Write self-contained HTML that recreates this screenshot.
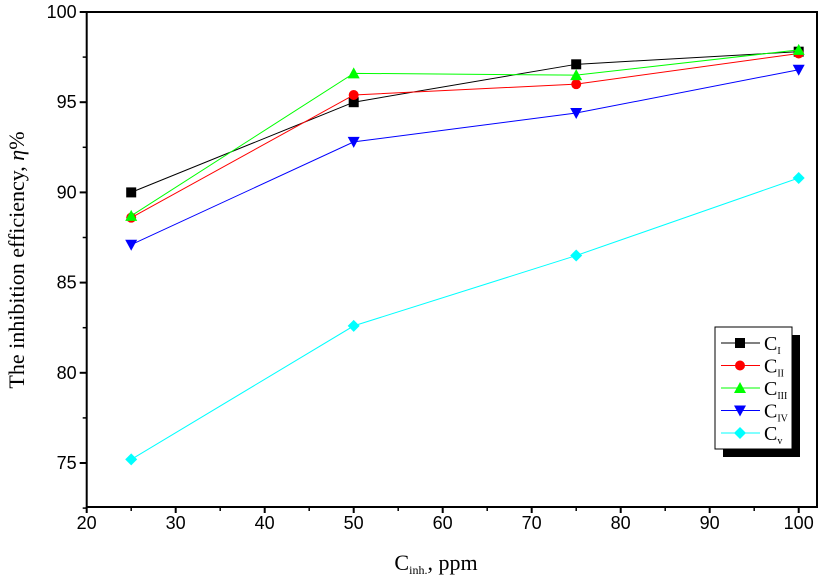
<!DOCTYPE html>
<html><head><meta charset="utf-8"><style>
body{margin:0;background:#fff;}
svg{display:block}
.tk{font-family:"Liberation Sans",sans-serif;font-size:18px;}
.sf{font-family:"Liberation Serif",serif;}
</style></head><body>
<svg id="chart" width="824" height="585" xmlns="http://www.w3.org/2000/svg"></svg>
<script>
const categories=[25,50,75,100];
const seriesNames=["I","II","III","IV","v"];
const sCI=[90.0,95.0,97.1,97.8];
const sCII=[88.6,95.4,96.0,97.7];
const sCIII=[88.7,96.6,96.5,97.9];
const sCIV=[87.1,92.8,94.4,96.8];
const sCV=[75.2,82.6,86.5,90.8];
const xTicks=[20,30,40,50,60,70,80,90,100];
const yTicks=[75,80,85,90,95,100];
const series=[sCI,sCII,sCIII,sCIV,sCV];
const colors=["#000","#f00","#0f0","#00f","#0ff"];
const shapes=["square","circle","up","down","diamond"];
const L=86.7,R=817,T=12,B=507;
const xs=v=>L+(v-20)*8.9;
const ys=v=>T+(100-v)*18.04;
const svg=document.getElementById('chart');
const NS="http://www.w3.org/2000/svg";
function mk(tag,attrs,parent){const e=document.createElementNS(NS,tag);for(const k in attrs)e.setAttribute(k,attrs[k]);(parent||svg).appendChild(e);return e;}
const frame=mk('rect',{x:L,y:T,width:R-L,height:B-T,fill:'none',stroke:'#000','stroke-width':2});


xTicks.forEach((t,i)=>{
 mk('line',{x1:xs(t),x2:xs(t),y1:B,y2:B+6,stroke:'#000','stroke-width':2});
 if(i<xTicks.length-1)mk('line',{x1:xs(t+5),x2:xs(t+5),y1:B,y2:B+4,stroke:'#000','stroke-width':1.5});
 const tx=mk('text',{x:xs(t),y:B+22,'text-anchor':'middle',class:'tk'});tx.textContent=t;
 
 
});
yTicks.forEach(t=>{
 mk('line',{x1:L-7,x2:L,y1:ys(t),y2:ys(t),stroke:'#000','stroke-width':2});
 mk('line',{x1:L-4,x2:L,y1:ys(t-2.5),y2:ys(t-2.5),stroke:'#000','stroke-width':1.5});
 const tx=mk('text',{x:L-10,y:ys(t)+6,'text-anchor':'end',class:'tk'});tx.textContent=t;
 
 
});
function marker(shape,cx,cy,c,g){
 if(shape==='square')return mk('rect',{x:cx-5,y:cy-5,width:10,height:10,fill:c},g);
 if(shape==='circle')return mk('circle',{cx:cx,cy:cy,r:5,fill:c},g);
 if(shape==='up')return mk('polygon',{points:`${cx-6},${cy+5} ${cx+6},${cy+5} ${cx},${cy-6}`,fill:c},g);
 if(shape==='down')return mk('polygon',{points:`${cx-6},${cy-5} ${cx+6},${cy-5} ${cx},${cy+6}`,fill:c},g);
 return mk('polygon',{points:`${cx},${cy-6} ${cx+6},${cy} ${cx},${cy+6} ${cx-6},${cy}`,fill:c},g);
}
series.forEach((s,i)=>{
 const g=mk('g',{});
 
 
 mk('polyline',{points:s.map((v,j)=>xs(categories[j])+','+ys(v)).join(' '),fill:'none',stroke:colors[i],'stroke-width':1},g);
 s.forEach((v,j)=>{const m=marker(shapes[i],xs(categories[j]),ys(v),colors[i],g);
  
  });
});
const lg=mk('g',{});


mk('rect',{x:723,y:335,width:77,height:122,fill:'#000'},lg);
mk('rect',{x:715,y:327,width:77,height:122,fill:'#fff',stroke:'#000','stroke-width':1},lg);
seriesNames.forEach((n,i)=>{
 const y=343+i*22.5;
 mk('line',{x1:721,x2:760,y1:y,y2:y,stroke:colors[i],'stroke-width':1},lg);
 marker(shapes[i],740,y,colors[i],lg);
 const t=mk('text',{x:764,y:y+7,class:'sf','font-size':'20'},lg);
 t.innerHTML='C<tspan font-size="10" dy="4">'+n+'</tspan>';
 
 
});
const xt=mk('text',{x:436,y:570,'text-anchor':'middle',class:'sf','font-size':'22'});
xt.innerHTML='C<tspan font-size="12" dy="4">inh.</tspan><tspan dy="-4">, ppm</tspan>';


const yt=mk('text',{x:0,y:0,'text-anchor':'middle',class:'sf','font-size':'22',transform:'translate(24,260) rotate(-90)'});
yt.innerHTML='The inhibition efficiency, <tspan font-style="italic">η</tspan>%';


</script>
</body></html>
